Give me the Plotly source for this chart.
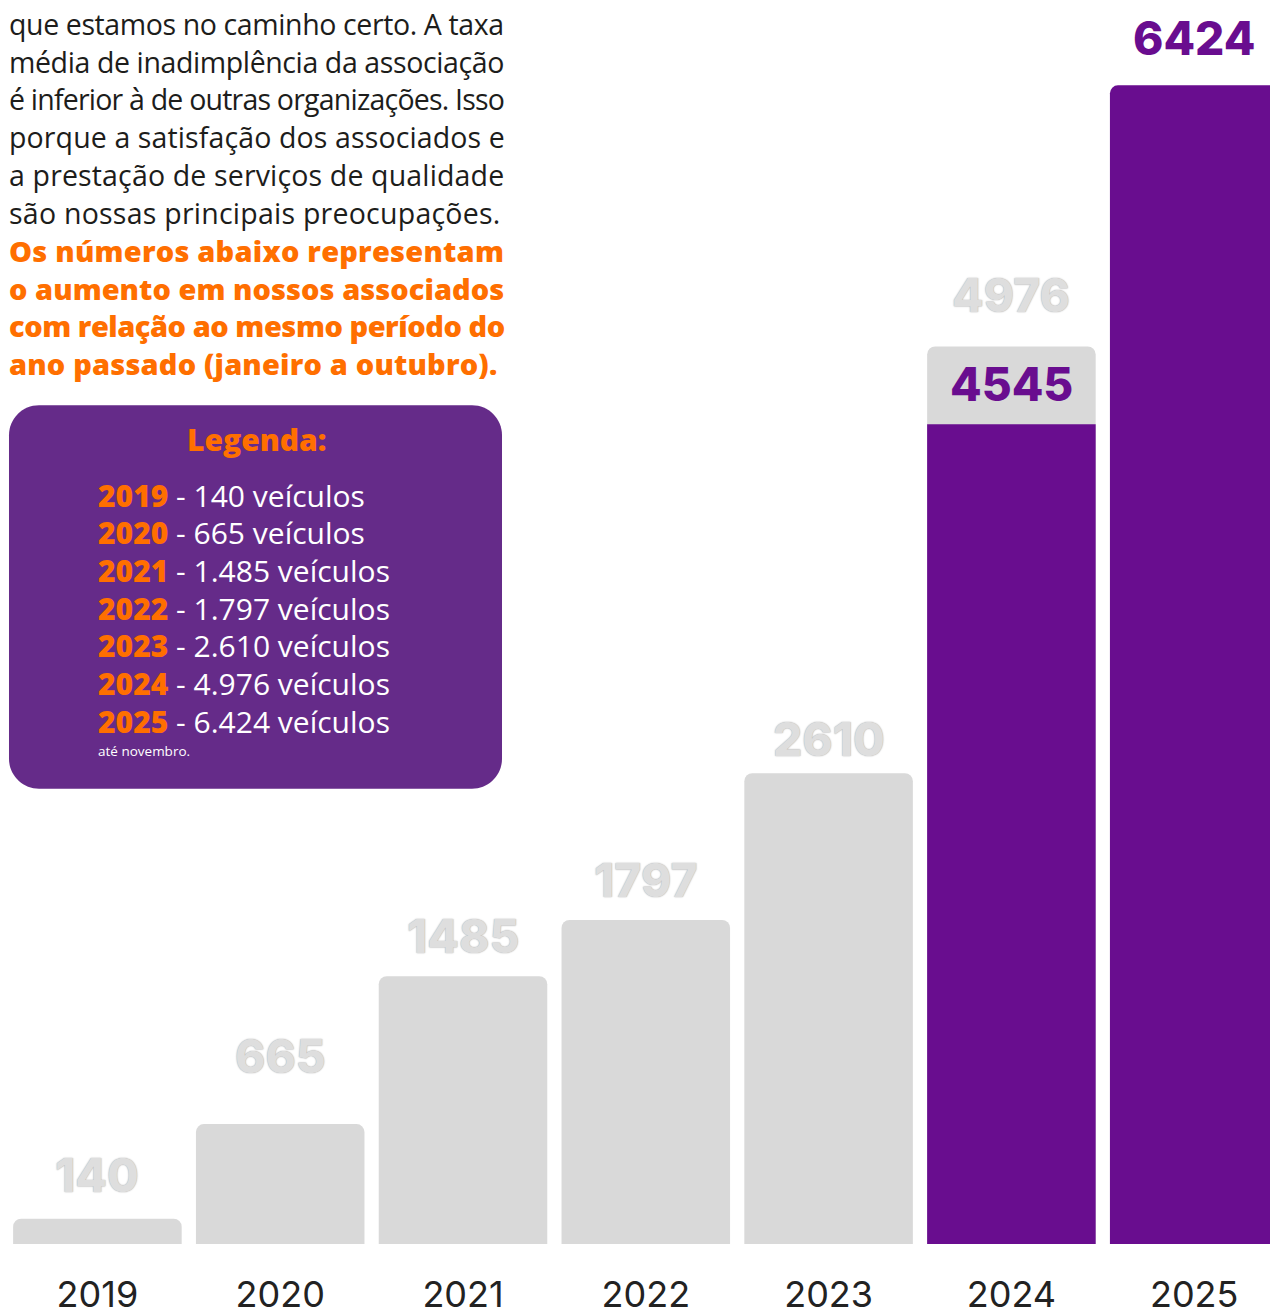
import plotly.graph_objects as go

# ---------------- data ----------------
years = ["2019", "2020", "2021", "2022", "2023", "2024", "2025"]
totals = [140, 665, 1485, 1797, 2610, 4976, 6424]
highlight = [None, None, None, None, None, 4545, 6424]
bar_labels = ["140", "665", "1485", "1797", "2610", "4976", "6424"]
inner_label_year = "2024"
inner_label_text = "4545"

legend_years = ["2019", "2020", "2021", "2022", "2023", "2024", "2025"]
legend_counts = ["140", "665", "1.485", "1.797", "2.610", "4.976", "6.424"]

para_lines = [
    "que estamos no caminho certo. A taxa",
    "média de inadimplência da associação",
    "é inferior à de outras organizações. Isso",
    "porque a satisfação dos associados e",
    "a prestação de serviços de qualidade",
    "são nossas principais preocupações.",
]
bold_lines = [
    "Os números abaixo representam",
    "o aumento em nossos associados",
    "com relação ao mesmo período do",
    "ano passado (janeiro a outubro).",
]

# ---------------- styling / layout ----------------
W, H = 1270, 1316
ML, MR, MT, MB = 6, 0, 0, 70
PW, PH = W - ML - MR, H - MT - MB
PX_PER_UNIT = 0.18065
CAT_PX = 182.8
BAR_W = 0.922

GRAY = "#d9d9d9"
PURPLE = "#690d8f"
BOX = "#652b89"
ORANGE = "#ff6f00"
TEXT = "#1d1d1b"

label_offsets = [44, 68, 40, 40, 34, 52, 47]  # px from bar top to label centre
para_letter_spacing = [-0.39, -0.39, -0.79, 0.12, 0.15, 0.24]  # justify lines
bold_letter_spacing = [0.21, 0.03, -0.47, 0.17]


def px(x):
    return (x - ML) / PW


def py(y):
    return (H - MB - y) / PH


xi = list(range(len(years)))
gray_vals = [t if h != t else None for t, h in zip(totals, highlight)]
purple_base = [h if (h is not None and h < t) else None for t, h in zip(totals, highlight)]
purple_full = [h if h == t else None for t, h in zip(totals, highlight)]

fig = go.Figure()
fig.add_trace(go.Bar(x=xi, y=gray_vals, width=BAR_W, hoverinfo="skip",
                     marker=dict(color=GRAY, line=dict(width=0), cornerradius=8)))
fig.add_trace(go.Bar(x=xi, y=purple_base, width=BAR_W, hoverinfo="skip",
                     marker=dict(color=PURPLE, line=dict(width=0), cornerradius=0)))
fig.add_trace(go.Bar(x=xi, y=purple_full, width=BAR_W, hoverinfo="skip",
                     marker=dict(color=PURPLE, line=dict(width=0), cornerradius=8)))

LABEL_FONT = "Inter"
annotations = []
# value labels above bars
for i, (t, lab) in enumerate(zip(totals, bar_labels)):
    hl = highlight[i] == t
    annotations.append(dict(
        x=i, y=t, xref="x", yref="y", text=lab, showarrow=False,
        yanchor="middle", yshift=label_offsets[i],
        font=dict(family=LABEL_FONT, size=46, weight=800,
                  color=PURPLE if hl else "#dedede",
                  shadow="none" if hl else "0px 0px 1.5px #9a9a9a"),
    ))
# inner label on 2024
idx = years.index(inner_label_year)
annotations.append(dict(
    x=idx, y=(highlight[idx] + totals[idx]) / 2, xref="x", yref="y",
    text=inner_label_text, showarrow=False, yanchor="middle", yshift=1,
    font=dict(family=LABEL_FONT, size=46, weight=800, color=PURPLE),
))

# paragraph text
LINE = 37.8
y0 = 24
for k, line in enumerate(para_lines):
    annotations.append(dict(
        x=px(7), y=py(y0 + k * LINE), xref="paper", yref="paper",
        text=f"<span style='letter-spacing:{para_letter_spacing[k]}px'>{line}</span>",
        showarrow=False, xanchor="left", yanchor="middle",
        font=dict(family="Open Sans", size=28.5, color=TEXT),
    ))
for k, line in enumerate(bold_lines):
    annotations.append(dict(
        x=px(7), y=py(y0 + (k + 6) * LINE), xref="paper", yref="paper",
        text=f"<span style='letter-spacing:{bold_letter_spacing[k]}px'>{line}</span>",
        showarrow=False, xanchor="left", yanchor="middle",
        font=dict(family="Open Sans", size=29, weight=800, color=ORANGE),
    ))

# legend box content
annotations.append(dict(
    x=px(256), y=py(440), xref="paper", yref="paper", text="Legenda:",
    showarrow=False, xanchor="center", yanchor="middle",
    font=dict(family="Open Sans", size=30, weight=800, color=ORANGE),
))
for k, (yr, c) in enumerate(zip(legend_years, legend_counts)):
    annotations.append(dict(
        x=px(97), y=py(496 + k * 37.7), xref="paper", yref="paper", borderpad=0,
        text=f"<span style='color:{ORANGE};font-weight:800'>{yr}</span> - {c} veículos",
        showarrow=False, xanchor="left", yanchor="middle",
        font=dict(family="Open Sans", size=30, color="white"),
    ))
annotations.append(dict(
    x=px(97), y=py(752), xref="paper", yref="paper", text="até novembro.", borderpad=0,
    showarrow=False, xanchor="left", yanchor="middle",
    font=dict(family="Open Sans", size=13.5, color="white"),
))


def rrect(x0, y0_, x1, y1, r):
    k = 0.5523 * r
    P = lambda x, y: f"{px(x):.5f},{py(y):.5f}"
    return (f"M{P(x0 + r, y0_)} L{P(x1 - r, y0_)} "
            f"C{P(x1 - r + k, y0_)} {P(x1, y0_ + r - k)} {P(x1, y0_ + r)} "
            f"L{P(x1, y1 - r)} C{P(x1, y1 - r + k)} {P(x1 - r + k, y1)} {P(x1 - r, y1)} "
            f"L{P(x0 + r, y1)} C{P(x0 + r - k, y1)} {P(x0, y1 - r + k)} {P(x0, y1 - r)} "
            f"L{P(x0, y0_ + r)} C{P(x0, y0_ + r - k)} {P(x0 + r - k, y0_)} {P(x0 + r, y0_)} Z")


shapes = [dict(type="path", xref="paper", yref="paper", path=rrect(9, 406, 502, 790, 30),
               fillcolor=BOX, line=dict(width=0), layer="below")]

fig.update_layout(
    width=W, height=H,
    margin=dict(l=ML, r=MR, t=MT, b=MB, pad=0),
    paper_bgcolor="white", plot_bgcolor="white",
    barmode="overlay", showlegend=False,
    xaxis=dict(range=[-0.5, (W - ML) / CAT_PX - 0.5], showgrid=False,
               zeroline=False, showline=False, ticks="", fixedrange=True,
               tickmode="array", tickvals=xi, ticktext=years,
               tickfont=dict(family="Inter", size=36, color="#222222"),
               ticklabelstandoff=26),
    yaxis=dict(range=[0, PH / PX_PER_UNIT], visible=False, fixedrange=True),
    annotations=annotations, shapes=shapes,
)

fig.write_html("out.html", config={"displayModeBar": False})
